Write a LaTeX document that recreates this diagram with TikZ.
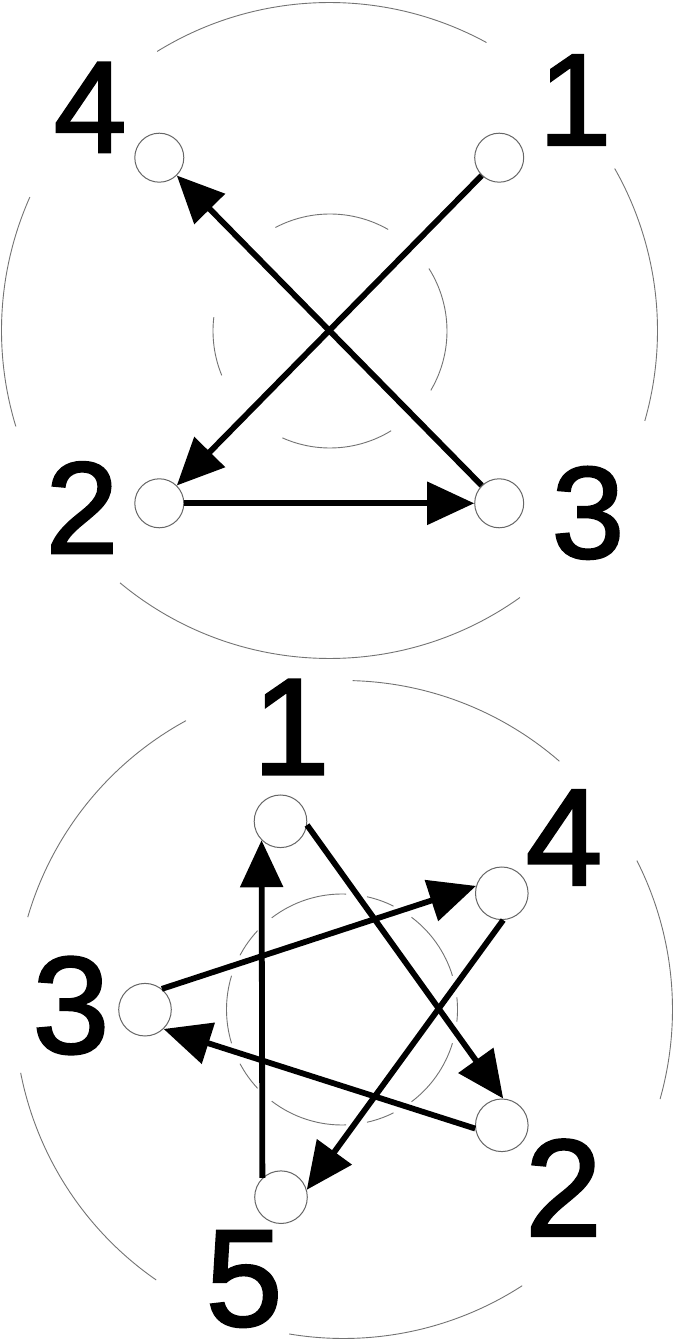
\documentclass[tikz,border=0pt]{standalone}
\usepackage{fontspec}
\setmainfont{Liberation Sans}
\newfontface\digitfont{Liberation Sans}[FakeBold=1.8]
\usetikzlibrary{arrows.meta}
\begin{document}
\begin{tikzpicture}[x=0.5pt,y=0.5pt,
  pt/.style={circle,draw=black!60,line width=0.5pt,fill=white,minimum size=24.5pt,inner sep=0pt},
  ptb/.style={pt,minimum size=26.3pt},
  lab/.style={inner sep=0pt,font=\digitfont\fontsize{65.3pt}{70pt}\selectfont},
  labb/.style={inner sep=0pt,font=\digitfont\fontsize{69pt}{74pt}\selectfont},
  ring/.style={draw=black!55,line width=0.45pt},
  arr/.style={line width=2.9pt,-{Triangle[length=23.5pt,width=21pt]}}
]
\useasboundingbox (0,0) rectangle (674,1341);
% centres
\coordinate (T) at (329.5,1010.5);
\coordinate (Ti) at (330,1010);
\coordinate (B) at (343.5,331.5);
\coordinate (Bi) at (342,331.5);
% rings, top
\foreach \a/\b in {61.4/121.7,-16/29.6,230.3/305.5,156/197}
  \draw[ring] ([shift={(\a:328)}]T) arc[start angle=\a,end angle=\b,radius=328];
\foreach \a/\b in {60.2/117.8,-30.5/32.3,246/301.5,173.2/202.3}
  \draw[ring] ([shift={(\a:117)}]Ti) arc[start angle=\a,end angle=\b,radius=117];
% rings, bottom
\foreach \a/\b in {49/88.4,118.6/163.7,191.1/235.3,260.5/302.9,-15.8/26.9}
  \draw[ring] ([shift={(\a:329)}]B) arc[start angle=\a,end angle=\b,radius=329];
\foreach \a/\b in {-6/6,17/53,-53/-17,63.5/77.5,-77.5/-63.5,88/127.5,-127.5/-88,137/152,-152/-137,163/197}
  \draw[ring] ([shift={(\a:115.5)}]Bi) arc[start angle=\a,end angle=\b,radius=115.5];
% top nodes
\node[pt] (t4) at (159.3,1183.3) {};
\node[pt] (t1) at (499.2,1183.3) {};
\node[pt] (t2) at (159.3,837.7) {};
\node[pt] (t3) at (499.2,837.7) {};
\node[lab] (lt4) at (90.2,1233.6) {4};
\node[lab] (lt1) at (575,1241) {1};
\node[lab] (lt2) at (82,833.4) {2};
\node[lab] (lt3) at (588,828.1) {3};
% top arrows
\draw[arr] (t1) -- (t2);
\draw[arr] (t3) -- (t4);
\draw[arr] (t2) -- (t3);
% bottom nodes
\node[ptb] (b1) at (280.5,519.7) {};
\node[ptb] (b4) at (501.8,447.7) {};
\node[ptb] (b3) at (145,331.3) {};
\node[ptb] (b2) at (501.8,215.7) {};
\node[ptb] (b5) at (281,143.8) {};
\node[labb] (lb1) at (291.3,614) {1};
\node[labb] (lb4) at (564,503.5) {4};
\node[labb] (lb3) at (71,335.5) {3};
\node[labb] (lb2) at (563.5,153.4) {2};
\node[labb] (lb5) at (244.1,62) {5};
% bottom arrows
\draw[arr] (b5.134) -- (b1.225);
\draw[arr] (b1.-8) -- (b2.87);
\draw[arr] (b2.187) -- (b3.-46);
\draw[arr] (b3.51) -- (b4.164);
\draw[arr] (b4.-87) -- (b5.16);
\end{tikzpicture}
\end{document}
